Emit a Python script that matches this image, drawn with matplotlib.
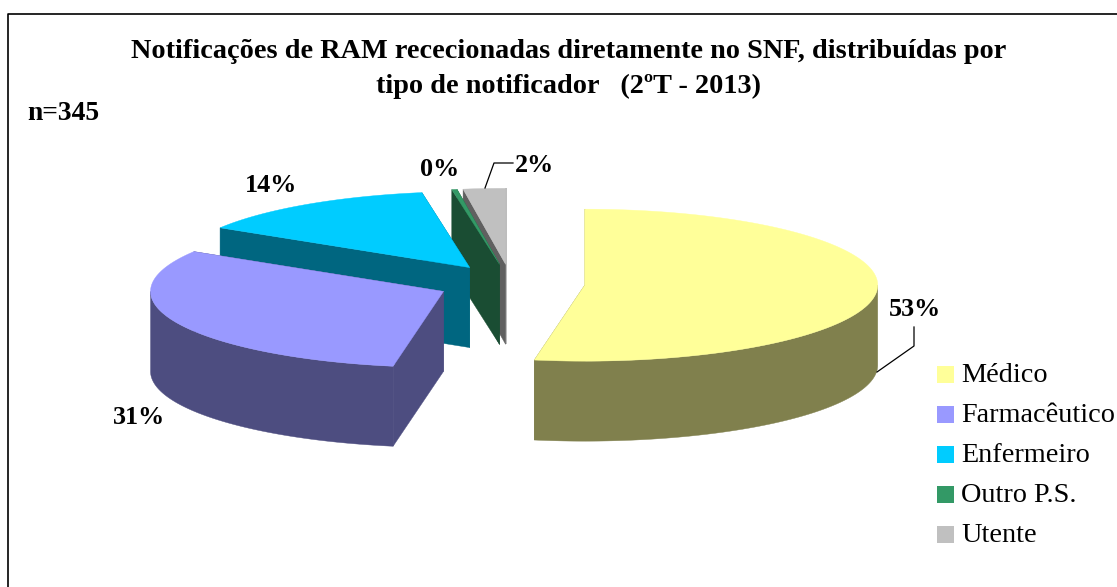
import numpy as np
import matplotlib
matplotlib.use("Agg")
import matplotlib.pyplot as plt
from matplotlib.colors import to_rgb
from matplotlib.patches import Polygon, Rectangle

# data: notifications per notifier type (n=345)
categories = ["Médico", "Farmacêutico", "Enfermeiro", "Outro P.S.", "Utente"]
counts = [182, 107, 47, 1, 8]
colors = ["#FFFF99", "#9999FF", "#00CCFF", "#339966", "#C0C0C0"]

title_lines = ["Notificações de RAM rececionadas diretamente no SNF, distribuídas por",
               "tipo de notificador   (2ºT - 2013)"]
n_label = "n=345"

# pie geometry, in pixels of the 1117x587 picture
CX, CY = 511, 283.5
RX, RY = 293, 76
DEPTH = 80
EXPLODE = 74
FONT = "Liberation Serif"
LABEL_POS = [(915, 310), (139, 418), (271, 185), (440, 170), (535, 165)]
LEGEND_Y = [374, 414, 454, 494, 534]

fig = plt.figure(figsize=(11.17, 5.87), dpi=100)
ax = fig.add_axes([0, 0, 1, 1])
ax.set_axis_off()
ax.set_xlim(0, 1117)
ax.set_ylim(587, 0)


def rim(cx, cy, a0, a1, n=120):
    """Ellipse points, angle in degrees clockwise from 12 o'clock."""
    t = np.radians(np.linspace(a0, a1, n))
    return np.column_stack([cx + RX * np.sin(t), cy - RY * np.cos(t)])


def face(pts, color, z):
    ax.add_patch(Polygon(pts, closed=True, fc=color, ec=color, lw=0.3, zorder=z))


def draw_slice(i, a0, a1, z):
    mid = np.radians((a0 + a1) / 2)
    cx = CX + EXPLODE * np.sin(mid)
    cy = CY - EXPLODE * RY / RX * np.cos(mid)
    col = to_rgb(colors[i])
    dark = tuple(c * 0.5 for c in col)
    down = np.array([0, DEPTH])
    apex = np.array([[cx, cy]])
    # radial faces
    for a in (a0, a1):
        p = rim(cx, cy, a, a, 1)
        face(np.vstack([apex, p, p + down, apex + down]), dark, z)
    # outer wall, only the front half shows
    lo, hi = max(a0, 90), min(a1, 270)
    if hi > lo:
        p = rim(cx, cy, lo, hi)
        face(np.vstack([p, (p + down)[::-1]]), dark, z + 0.1)
    # top
    face(np.vstack([apex, rim(cx, cy, a0, a1)]), col, z + 0.2)


shares = np.array(counts) / sum(counts)
edges = np.concatenate([[0], np.cumsum(shares)]) * 360

# back to front
for z, i in enumerate([4, 3, 2, 1, 0]):
    draw_slice(i, edges[i], edges[i + 1], z + 1)

for i, (x, y) in enumerate(LABEL_POS):
    ax.text(x, y, f"{shares[i] * 100:.0f}%", ha="center", va="center", family=FONT,
            fontweight="bold", fontsize=18.8, color="black", zorder=10)

# leader lines
ax.plot([485, 494, 513], [188, 163, 163], color="black", lw=0.9, zorder=9)
ax.plot([914, 914, 877], [327, 346, 372], color="black", lw=0.9, zorder=9)

# legend
for i, y in enumerate(LEGEND_Y):
    ax.add_patch(Rectangle((937, y - 8.5), 17, 17, fc=colors[i], ec="none", zorder=5))
    ax.text(961, y + 2, categories[i], ha="left", va="center", family=FONT, fontsize=20.3,
            color="black", zorder=5)

ax.text(568.5, 51, title_lines[0], ha="center", va="center", family=FONT, fontweight="bold",
        fontsize=20.3, color="black")
ax.text(568.5, 86, title_lines[1], ha="center", va="center", family=FONT, fontweight="bold",
        fontsize=20.3, color="black")
ax.text(27, 113, n_label, ha="left", va="center", family=FONT, fontweight="bold",
        fontsize=19.8, color="black")

# chart border, right and bottom sides are cropped off in the source
ax.plot([8, 8, 1117], [587, 14, 14], color="black", lw=1.2, clip_on=False)

fig.savefig("out.png", facecolor="white")
